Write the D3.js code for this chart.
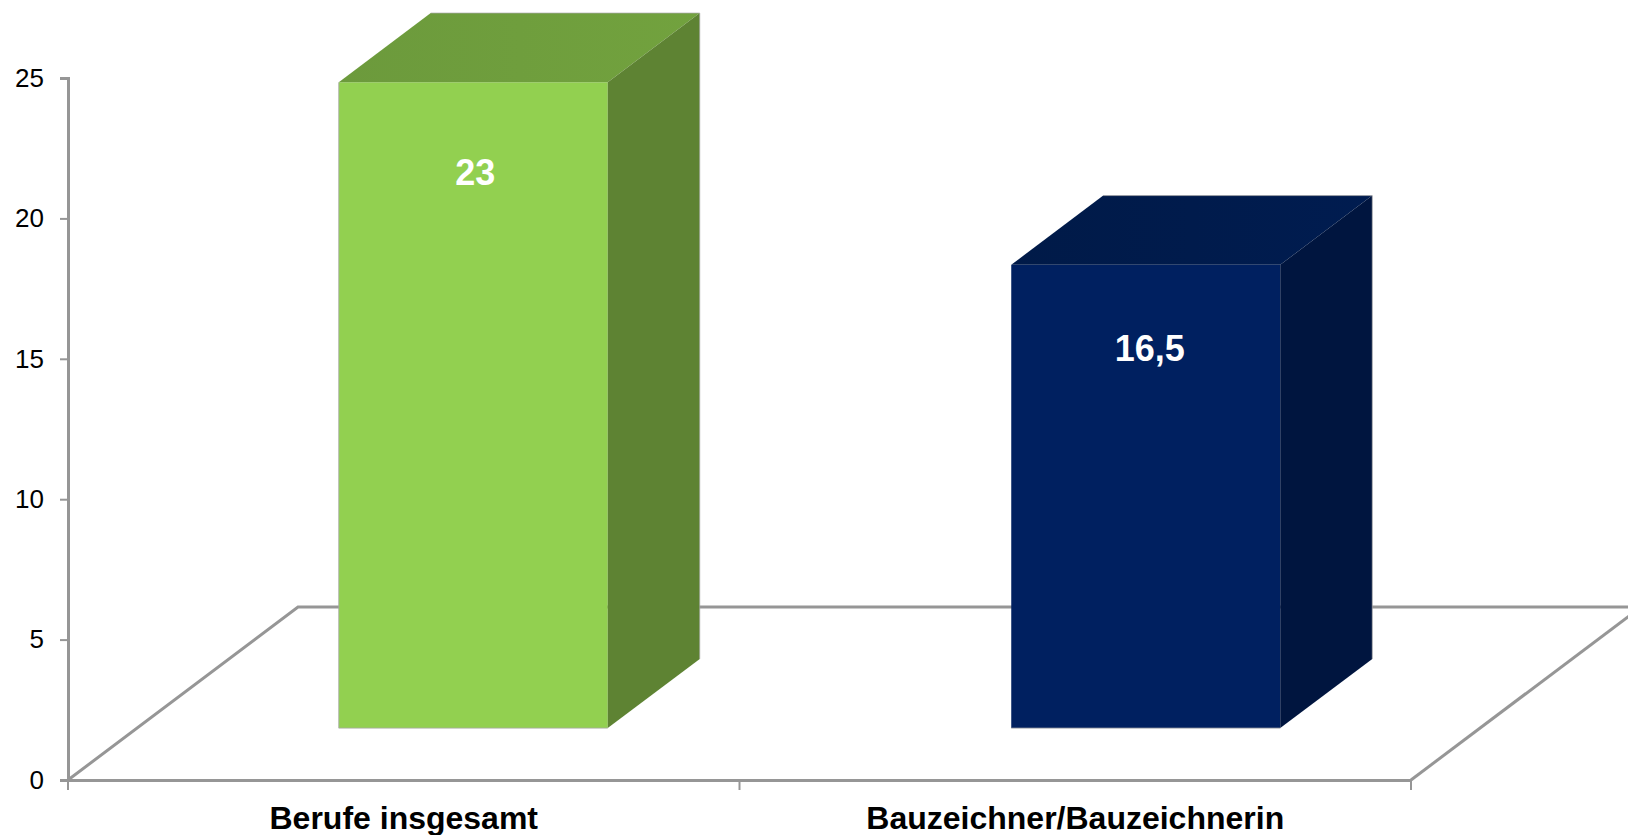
<!DOCTYPE html>
<html><head><meta charset="utf-8">
<script src="https://cdn.jsdelivr.net/npm/d3@7/dist/d3.min.js"></script>
<style>html,body{margin:0;padding:0;background:#fff;overflow:hidden}svg{display:block}text{font-family:"Liberation Sans",Arial,sans-serif}</style>
</head><body><svg id="c" width="1628" height="835"></svg>
<script>
const categories = ["Berufe insgesamt", "Bauzeichner/Bauzeichnerin"];
const values = [23, 16.5];
const valueLabels = ["23", "16,5"];
const yTicks = [0, 5, 10, 15, 20, 25];
const frontColors = ["#92d050", "#002060"];
const topColors = [["#6c9a3c", "#72a23e"], ["#001a48", "#001c50"]];
const sideColors = ["#5e8333", "#00153f"];

const svg = d3.select("#c");
const x = d3.scaleBand().domain(categories).range([68, 1413]).paddingInner(0.6).paddingOuter(0.3);
const band = d3.scaleBand().domain(categories).range([68, 1411]);
const y = d3.scaleLinear().domain([0, 25]).range([780, 78]);
const depthX = 230, depthY = 173;
const near = 0.3, far = 0.7;
const axisColor = "#969696";

const defs = svg.append("defs");
categories.forEach((c, i) => {
  const g = defs.append("linearGradient").attr("id", "top" + i);
  g.append("stop").attr("offset", "0%").attr("stop-color", topColors[i][0]);
  g.append("stop").attr("offset", "100%").attr("stop-color", topColors[i][1]);
});

// floor
const floor = svg.append("g").attr("fill", "none").attr("stroke", axisColor).attr("stroke-width", 3);
const line = d3.line();
const [left, right] = band.range();
floor.append("path").attr("d", line([[left, y(0)], [left + depthX, y(0) - depthY], [1660, y(0) - depthY]]));
floor.append("path").attr("d", line([[right, y(0)], [right + depthX, y(0) - depthY]]));

// axes
const yAxis = d3.axisLeft(y).tickValues(yTicks).tickSize(8).tickPadding(16);
const gy = svg.append("g").attr("transform", "translate(68,0)").call(yAxis);
const xAxis = d3.axisBottom(band).tickValues([]).tickSize(0);
const gx = svg.append("g").attr("transform", "translate(0,780)").call(xAxis);
[gy, gx].forEach(g => {
  g.selectAll("path.domain").attr("stroke", axisColor).attr("stroke-width", 3);
  g.selectAll(".tick line").attr("stroke", axisColor).attr("stroke-width", 2);
});
gy.selectAll("text").attr("font-size", 26).attr("fill", "#000").style("font-family", '"Liberation Sans"');

// x ticks at band boundaries
const boundaries = categories.map(c => band(c)).concat(right);
svg.append("g").selectAll("line").data(boundaries).join("line")
  .attr("x1", d => d).attr("x2", d => d).attr("y1", 780).attr("y2", 790)
  .attr("stroke", axisColor).attr("stroke-width", 2);

// category labels
svg.append("g").selectAll("text").data(categories).join("text")
  .attr("x", d => band(d) + band.bandwidth() / 2).attr("y", 829)
  .attr("text-anchor", "middle").attr("font-size", 32).attr("font-weight", "bold").attr("fill", "#000")
  .text(d => d);

// bars
const bars = svg.append("g").selectAll("g").data(categories).join("g");
bars.each(function (c, i) {
  const g = d3.select(this);
  const sx = near * depthX, sy = near * depthY;
  const dx = (far - near) * depthX, dy = (far - near) * depthY;
  const x0 = x(c) + sx, x1 = x0 + x.bandwidth();
  const yb = y(0) - sy, yt = y(values[i]) - sy;
  g.append("rect").attr("x", x0).attr("y", yt).attr("width", x1 - x0).attr("height", yb - yt)
    .attr("fill", frontColors[i]);
  g.append("path").attr("d", line([[x0, yt], [x0 + dx, yt - dy], [x1 + dx, yt - dy], [x1, yt]]) + "Z")
    .attr("fill", `url(#top${i})`);
  g.append("path").attr("d", line([[x1, yt], [x1 + dx, yt - dy], [x1 + dx, yb - dy], [x1, yb]]) + "Z")
    .attr("fill", sideColors[i]);
  g.append("path").attr("d", line([[x0, yb], [x1, yb]]))
    .attr("fill", "none").attr("stroke", "#a8a8a8").attr("stroke-width", 1).attr("stroke-opacity", 0.8);
  if (!i) g.append("path").attr("d", line([[x0, yt], [x0, yb]]))
    .attr("fill", "none").attr("stroke", "#a8a8a8").attr("stroke-width", 1).attr("stroke-opacity", 0.8);
  g.append("path").attr("d", line([[x0 + dx, yt - dy], [x1 + dx, yt - dy], [x1 + dx, yb - dy]]))
    .attr("fill", "none").attr("stroke", "#a8a8a8").attr("stroke-width", 1).attr("stroke-opacity", 0.7);
  g.append("text").attr("x", (x0 + x1) / 2 + (i ? 4 : 2)).attr("y", yt + (i ? 96 : 103))
    .attr("text-anchor", "middle").attr("font-size", 36).attr("font-weight", "bold").attr("fill", "#fff")
    .text(valueLabels[i]);
});
</script></body></html>
